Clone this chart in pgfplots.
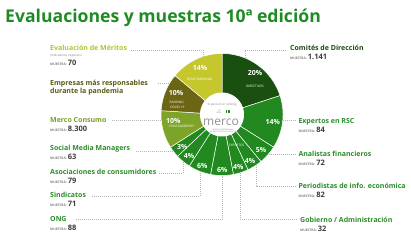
\documentclass[border=0pt]{standalone}
\usepackage{fontspec}
\setmainfont{Open Sans}
\usepackage{pgfplots}
\usepackage{pgfplotstable}
\pgfplotsset{compat=1.18}

\definecolor{cDir}{HTML}{1A500F}
\definecolor{cExp}{HTML}{21891F}
\definecolor{cCon}{HTML}{7DA428}
\definecolor{cCov}{HTML}{6B6514}
\definecolor{cBen}{HTML}{C5C72C}
\definecolor{tTitle}{HTML}{1F8B24}
\definecolor{tMer}{HTML}{B3C32E}
\definecolor{tCov}{HTML}{5A5812}
\definecolor{tCon}{HTML}{7A9C24}
\definecolor{tGreen}{HTML}{2A8C2A}
\definecolor{tDir}{HTML}{1C4A12}
\definecolor{lead}{HTML}{B4B4B4}
\definecolor{numgray}{HTML}{3C3C3C}

\pgfplotstableread{
pct col
20 cDir
14 cExp
5 cExp
4 cExp
4 cExp
6 cExp
6 cExp
4 cExp
3 cExp
10 cCon
10 cCov
14 cBen
}\slices

\newcommand{\muestra}[1]{{\fontsize{3.3}{3.6}\selectfont\color{gray}MUESTRA:}\,{\fontsize{7.5}{8}\selectfont\bfseries\color{numgray}#1}}

\begin{document}
\begin{tikzpicture}[x=1pt,y=1pt]
\useasboundingbox (0,0) rectangle (411,246);

\begin{axis}[at={(222pt,131.5pt)}, anchor=origin, hide axis,
  x=1pt, y=1pt, xmin=-61, xmax=61, ymin=-61, ymax=61, clip=false]
\pgfplotstablegetrowsof{\slices}
\pgfmathtruncatemacro{\lastrow}{\pgfplotsretval-1}
\xdef\cum{0}
\pgfplotsforeachungrouped \i in {0,...,\lastrow}{%
  \pgfplotstablegetelem{\i}{pct}\of\slices
  \let\pv=\pgfplotsretval
  \pgfplotstablegetelem{\i}{col}\of\slices
  \let\cv=\pgfplotsretval
  \pgfmathsetmacro{\angA}{90-3.6*\cum}
  \pgfmathsetmacro{\angB}{90-3.6*(\cum+\pv)}
  \edef\doplot{\noexpand\addplot[fill=\cv, draw=white, line width=0.5pt, domain=\angB:\angA, samples=40] ({61*cos(x)},{61*sin(x)}) -- (axis cs:0,0) -- cycle;}%
  \doplot
  \pgfmathsetmacro{\cumnew}{\cum+\pv}
  \xdef\cum{\cumnew}
}
\addplot[fill=white, draw=none, domain=0:360, samples=72] ({22*cos(x)},{22*sin(x)}) -- cycle;
\end{axis}

\begin{scope}[x=1pt, y=-1pt, yshift=246pt]
% title
\node[anchor=base west, inner sep=0pt, text=tTitle, font=\fontsize{17.6}{19}\selectfont\bfseries] at (5,22.7) {Evaluaciones y muestras 10ª edición};

% leader lines
\begin{scope}[draw=lead, line width=0.5pt, dash pattern=on 1pt off 1pt]
\draw (131,50) -- (203,50) -- (203,57);
\draw (158,83) -- (170,83);
\draw (112,120) -- (161,120);
\draw (136,151) -- (173,151);
\draw (159,173) -- (183,173) -- (183,161);
\draw (92,196) -- (200,196) -- (200,171);
\draw (76,219) -- (222.7,219) -- (222.7,175.5);
\draw (240,173) -- (240,219) -- (298,219);
\draw (256,165) -- (256,186) -- (296,186);
\draw (268.5,154) -- (296,154);
\draw (282.7,120) -- (296,120);
\draw (245,58) -- (245,50) -- (287,50);
\end{scope}

% left labels
\begin{scope}[every node/.style={anchor=base west, inner sep=0pt, font=\fontsize{7}{8}\selectfont\bfseries}]
\node[text=tMer] at (50,51) {Evaluación de Méritos};
\node[text=gray, font=\fontsize{3}{3.3}\selectfont] at (50,57) {(Indicadores objetivos)};
\node at (50,65.7) {\muestra{70}};
\node[text=tCov] at (50,85.5) {Empresas más responsables};
\node[text=tCov] at (50,94) {durante la pandemia};
\node[text=tCon] at (50,122.5) {Merco Consumo};
\node at (50,131.3) {\muestra{8.300}};
\node[text=tGreen] at (50,150.7) {Social Media Managers};
\node at (50,159.3) {\muestra{63}};
\node[text=tGreen] at (50,174.3) {Asociaciones de consumidores};
\node at (50,183.3) {\muestra{79}};
\node[text=tGreen] at (50,197.7) {Sindicatos};
\node at (50,206.7) {\muestra{71}};
\node[text=tGreen] at (50,221.7) {ONG};
\node at (50,230.7) {\muestra{88}};
% right labels
\node[text=tDir] at (290,51) {Comités de Dirección};
\node at (290,60) {\muestra{1.141}};
\node[text=tGreen] at (298.3,123.3) {Expertos en RSC};
\node at (298.3,132.7) {\muestra{84}};
\node[text=tGreen] at (298.3,156.7) {Analistas financieros};
\node at (298.3,166) {\muestra{72}};
\node[text=tGreen] at (298.3,188.3) {Periodistas de info. económica};
\node at (298.3,197.7) {\muestra{82}};
\node[text=tGreen] at (300,222.3) {Gobierno / Administración};
\node at (300,231.3) {\muestra{32}};
\end{scope}

% labels inside ring
\begin{scope}[every node/.style={anchor=center, inner sep=0pt, text=white, font=\fontsize{7}{8}\selectfont\bfseries}]
\node at (255,73) {20\%};
\node at (272.7,121.7) {14\%};
\node at (200,68.3) {14\%};
\node at (176,93.3) {10\%};
\node at (173.3,120.7) {10\%};
\node at (182.3,146.7) {3\%};
\node at (189,156) {4\%};
\node at (202.3,166) {6\%};
\node at (222.3,170) {6\%};
\node at (238.3,166.7) {4\%};
\node at (250,161) {4\%};
\node at (261,150) {5\%};
\end{scope}
\begin{scope}[every node/.style={anchor=center, inner sep=0pt, text=white, font=\fontsize{3.2}{3.6}\selectfont}]
\node at (255,86) {DIRECTIVOS};
\node at (200,79.3) {BENCHMARKING};
\node at (176.7,102) {RANKING};
\node at (177.3,107.7) {COVID-19};
\node at (181.7,126) {CONSUMIDORES};
\node at (236.7,145) {EXPERTOS};
\end{scope}

% centre
\node[anchor=center, inner sep=0pt, text=gray, font=\fontsize{3}{3.3}\selectfont] at (222,104.5) {\% peso en el ranking};
\node[anchor=center, inner sep=0pt, text=gray, font=\fontsize{2.2}{2.4}\selectfont, align=center] at (219,111.5) {10\\años};
\node[anchor=center, inner sep=0pt] at (228,111.5) {\textcolor{tGreen}{\rule{1pt}{3.5pt}\hspace{0.7pt}\rule{1pt}{3.5pt}\hspace{0.7pt}\rule{1pt}{3.5pt}}};
\node[anchor=center, inner sep=0pt, text=gray!85, font=\fontsize{12}{13}\selectfont] at (221,122) {merco};
\node[anchor=center, inner sep=0pt, text=gray, font=\fontsize{1.8}{2}\selectfont, align=center] at (223,130.5) {MONITOR EMPRESARIAL\\DE REPUTACIÓN CORPORATIVA};
\end{scope}
\end{tikzpicture}
\end{document}
